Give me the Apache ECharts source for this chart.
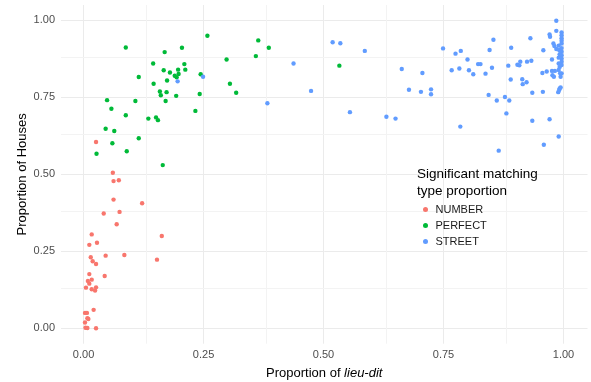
<!DOCTYPE html>
<html><head><meta charset="utf-8">
<script src="https://cdn.jsdelivr.net/npm/echarts@6/dist/echarts.min.js"></script>
<style>html,body{margin:0;padding:0;background:#fff}#c{width:591px;height:382px}</style>
</head><body><div id="c"></div>
<script>
const seriesNames = ['NUMBER', 'PERFECT', 'STREET'];
const seriesColors = ['#F8766D', '#00BA38', '#619CFF'];
const majorTicks = [0, 0.25, 0.5, 0.75, 1];
const minorTicks = [0.125, 0.375, 0.625, 0.875];
const tickLabels = ['0.00', '0.25', '0.50', '0.75', '1.00'];

const numberX = [0.026,0.061,0.0625,0.0735,0.0625,0.122,0.042,0.075,0.069,0.017,0.163,0.012,0.028,0.046,0.085,0.153,0.015,0.019,0.026,0.044,0.012,0.017,0.009,0.012,0.005,0.017,0.026,0.024,0.021,0.003,0.007,0.008,0.010,0.003,0.004,0.008,0.026];
const numberY = [0.605,0.505,0.478,0.481,0.418,0.406,0.373,0.378,0.338,0.305,0.300,0.271,0.278,0.236,0.238,0.223,0.231,0.218,0.209,0.170,0.176,0.158,0.154,0.145,0.132,0.127,0.133,0.123,0.060,0.050,0.050,0.033,0.030,0.019,0.002,0.001,0.000];

const perfectX = [0.088,0.258,0.364,0.359,0.169,0.205,0.145,0.210,0.298,0.167,0.180,0.197,0.212,0.190,0.198,0.194,0.115,0.174,0.146,0.244,0.305,0.318,0.159,0.161,0.173,0.193,0.242,0.171,0.049,0.108,0.058,0.088,0.233,0.135,0.151,0.155,0.046,0.064,0.115,0.060,0.027,0.090,0.165,0.386,0.533];
const perfectY = [0.912,0.950,0.935,0.884,0.897,0.911,0.860,0.858,0.873,0.838,0.831,0.840,0.840,0.820,0.826,0.815,0.816,0.805,0.794,0.825,0.794,0.765,0.769,0.757,0.767,0.755,0.761,0.738,0.741,0.738,0.713,0.692,0.706,0.681,0.685,0.676,0.648,0.641,0.617,0.601,0.567,0.575,0.530,0.911,0.853];

const streetX = [0.249,0.196,0.4375,0.474,0.383,0.519,0.535,0.586,0.555,0.631,0.650,0.663,0.706,0.678,0.703,0.724,0.724,0.749,
  0.775,0.786,0.800,0.767,0.783,0.803,0.812,0.822,0.827,0.8375,0.846,0.854,0.851,0.844,0.861,0.878,0.887,0.881,0.785,0.865,
  0.891,0.885,0.890,0.904,0.908,0.910,0.914,0.915,0.923,0.924,0.933,0.931,0.935,0.935,0.957,0.956,0.965,0.958,0.971,0.959,0.990,
  0.985,0.985,0.971,0.972,0.979,0.981,0.985,0.990,0.991,0.996,0.996,0.996,0.996,0.996,0.996,0.996,0.996,0.996,0.996,0.996,
  0.976,0.990,0.992,0.990,0.992,0.990,0.976,0.982,0.977,0.980,0.993,0.996,0.994,0.991,0.992,0.994,0.989];
const streetY = [0.817,0.802,0.860,0.771,0.731,0.929,0.926,0.901,0.702,0.687,0.681,0.842,0.829,0.775,0.768,0.776,0.760,0.909,
  0.892,0.901,0.873,0.838,0.844,0.838,0.825,0.858,0.858,0.827,0.904,0.937,0.846,0.758,0.740,0.751,0.740,0.698,0.655,0.577,
  0.911,0.853,0.808,0.856,0.854,0.866,0.809,0.793,0.799,0.866,0.869,0.942,0.765,0.674,0.768,0.829,0.834,0.903,0.679,0.596,0.623,
  0.999,0.966,0.954,0.947,0.925,0.917,0.907,0.918,0.904,0.961,0.952,0.942,0.934,0.925,0.910,0.898,0.887,0.876,0.866,0.855,
  0.873,0.879,0.890,0.860,0.849,0.839,0.836,0.836,0.822,0.817,0.828,0.828,0.817,0.774,0.779,0.782,0.767];

const groupsX = [numberX, perfectX, streetX];
const groupsY = [numberY, perfectY, streetY];

const FONT = '"Liberation Sans", Arial, sans-serif';
const chart = echarts.init(document.getElementById('c'), null, {renderer: 'canvas'});

const gridLines = [];
majorTicks.forEach(v => { gridLines.push({xAxis: v, lineStyle: {color: '#ebebeb', width: 1, type: 'solid'}}); gridLines.push({yAxis: v, lineStyle: {color: '#ebebeb', width: 1, type: 'solid'}}); });
minorTicks.forEach(v => { gridLines.push({xAxis: v, lineStyle: {color: '#f3f3f3', width: 1, type: 'solid'}}); gridLines.push({yAxis: v, lineStyle: {color: '#f3f3f3', width: 1, type: 'solid'}}); });

const series = [{
  type: 'scatter', name: '_grid', data: [], silent: true, z: 0,
  markLine: {silent: true, symbol: 'none', label: {show: false}, animation: false, z: 0,
    lineStyle: {type: 'solid'}, emphasis: {disabled: true}, data: gridLines}
}];
seriesNames.forEach((n, i) => {
  series.push({
    type: 'scatter', name: n, symbol: 'circle', symbolSize: 4.4, z: 5,
    itemStyle: {color: seriesColors[i], opacity: 1},
    data: groupsX[i].map((x, j) => [x, groupsY[i][j]])
  });
});

chart.setOption({
  animation: false,
  backgroundColor: '#fff',
  grid: {left: 61, right: 3.5, top: 5, bottom: 38.3, containLabel: false, outerBoundsMode: 'none'},
  title: {
    text: 'Significant matching\ntype proportion', left: 417, top: 166, padding: 0,
    textStyle: {fontFamily: FONT, fontSize: 13.5, fontWeight: 'normal', color: '#000', lineHeight: 17}
  },
  legend: {
    data: seriesNames, orient: 'vertical', left: 423, top: 203, icon: 'circle', padding: 0,
    itemWidth: 10, itemHeight: 5, itemGap: 3, symbolKeepAspect: true,
    textStyle: {fontFamily: FONT, fontSize: 11, color: '#1a1a1a', lineHeight: 13, padding: [0,0,0,0]}
  },
  xAxis: {
    type: 'value', min: -0.047, max: 1.05,
    axisLine: {show: false}, axisTick: {show: false}, splitLine: {show: false},
    axisLabel: {customValues: majorTicks, formatter: v => tickLabels[majorTicks.indexOf(Math.round(v*100)/100)] ?? '', fontFamily: FONT, fontSize: 11, color: '#4d4d4d', margin: 6},
    name: '{a|Proportion of }{b|lieu-dit}', nameLocation: 'middle', nameGap: 23,
    nameTextStyle: {fontFamily: FONT, fontSize: 13, color: '#000',
      rich: {a: {fontFamily: FONT, fontSize: 13, color: '#000'}, b: {fontFamily: FONT, fontSize: 13, color: '#000', fontStyle: 'italic'}}}
  },
  yAxis: {
    type: 'value', min: -0.05, max: 1.05,
    axisLine: {show: false}, axisTick: {show: false}, splitLine: {show: false},
    axisLabel: {customValues: majorTicks, formatter: v => tickLabels[majorTicks.indexOf(Math.round(v*100)/100)] ?? '', fontFamily: FONT, fontSize: 11, color: '#4d4d4d', margin: 6},
    name: 'Proportion of Houses', nameLocation: 'middle', nameGap: 32, nameMoveOverlap: false,
    nameTextStyle: {fontFamily: FONT, fontSize: 13, color: '#000'}
  },
  series: series
});
</script></body></html>
